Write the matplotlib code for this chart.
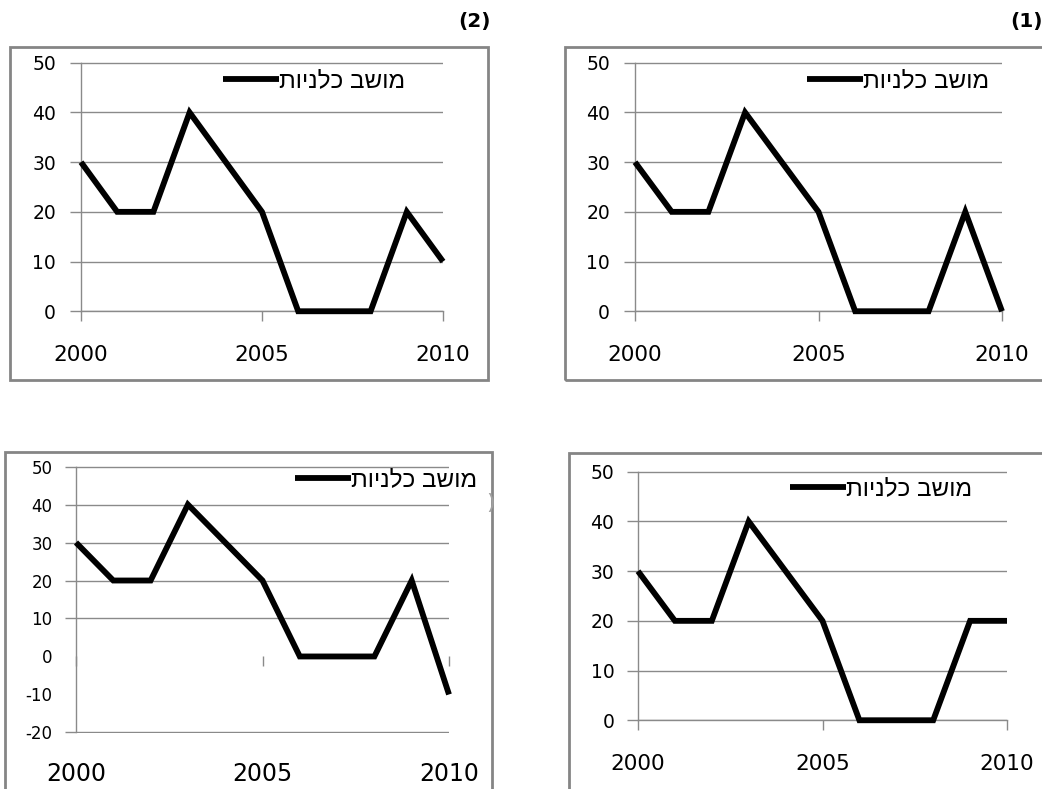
import matplotlib
matplotlib.use("Agg")
import matplotlib.pyplot as plt
from matplotlib.patches import Rectangle

# values
years = [2000, 2001, 2002, 2003, 2004, 2005, 2006, 2007, 2008, 2009, 2010]
values_1 = [30, 20, 20, 40, 30, 20, 0, 0, 0, 20, 0]
values_2 = [30, 20, 20, 40, 30, 20, 0, 0, 0, 20, 10]
values_3 = [30, 20, 20, 40, 30, 20, 0, 0, 0, 20, -10]
values_4 = [30, 20, 20, 40, 30, 20, 0, 0, 0, 20, 20]
series_name = "מושב כלניות"
x_ticks = [2000, 2005, 2010]
y_ticks_top = [0, 10, 20, 30, 40, 50]
y_ticks_low = [-20, -10, 0, 10, 20, 30, 40, 50]
grid_low = [-20, 10, 20, 30, 40, 50]   # lines that show in the lower-left chart

W, H = 1042, 789
fig = plt.figure(figsize=(W / 100, H / 100), dpi=100)
GRAY = "#8a8a8a"
FRAME = "#858585"


def frame(x0, y0, x1, y1):
    fig.patches.append(Rectangle((x0 / W, 1 - y1 / H), (x1 - x0) / W, (y1 - y0) / H,
                                 transform=fig.transFigure, fill=False,
                                 edgecolor=FRAME, lw=2.0))


def panel(x0, x1, ytop, ybot, vals, yt, grid_vals, ylim, xfs, yfs, ypad, xpad,
          leg_xy, zero_axis=False):
    ax = fig.add_axes([x0 / W, 1 - ybot / H, (x1 - x0) / W, (ybot - ytop) / H])
    ax.set_xlim(2000, 2010)
    # a hair of room so the edge gridlines are not clipped in half
    ax.set_ylim(ylim[0] - 0.15, ylim[1] + 0.15)
    for s in ["top", "right"]:
        ax.spines[s].set_visible(False)
    ax.spines["left"].set_color(GRAY)
    ax.spines["left"].set_linewidth(1.0)
    ax.spines["left"].set_bounds(ylim[0], ylim[1])
    ax.spines["bottom"].set_position(("data", 0))
    if zero_axis:
        ax.spines["bottom"].set_color("none")
    else:
        ax.spines["bottom"].set_color(GRAY)
        ax.spines["bottom"].set_linewidth(1.0)
    ax.set_xticks(x_ticks)
    ax.set_xticklabels([str(t) for t in x_ticks], fontsize=xfs, family="DejaVu Sans")
    ax.tick_params(axis="x", length=7, width=1, color=GRAY, direction="out", pad=xpad)
    ax.set_yticks(yt)
    ax.set_yticklabels([str(t) for t in yt], fontsize=yfs, family="DejaVu Sans")
    ax.tick_params(axis="y", which="major", length=0, pad=ypad)
    ax.yaxis.remove_overlapping_locs = False
    ax.set_yticks(grid_vals, minor=True)
    ax.tick_params(axis="y", which="minor", length=8, width=1, color=GRAY, direction="out")
    ax.grid(which="minor", axis="y", color=GRAY, lw=1.0)
    ax.set_axisbelow(True)
    ax.plot(years, vals, color="black", lw=4.2, solid_capstyle="butt",
            solid_joinstyle="miter", clip_on=False, zorder=3,
            label=series_name[::-1])
    ax.legend(loc="center left", bbox_to_anchor=(leg_xy[0] / W, 1 - leg_xy[1] / H),
              bbox_transform=fig.transFigure, frameon=False, borderpad=0,
              borderaxespad=0, handlelength=2.3, handletextpad=0.0,
              prop={"family": ["Liberation Sans", "DejaVu Sans"], "size": 17.5})
    return ax


# frames around each chart (some run past the page edge)
frame(10, 47, 488, 380)
frame(565, 47, 1060, 380)
frame(5, 452, 492, 800)
frame(569, 453, 1060, 800)

# top-left: (2)
panel(81, 443, 62, 312, values_2, y_ticks_top, y_ticks_top, (0, 50),
      15.5, 13.5, 18, 17, (223, 81))
# top-right: (1)
panel(635, 1002, 62, 312, values_1, y_ticks_top, y_ticks_top, (0, 50),
      15.5, 13.5, 18, 17, (807, 81))
# bottom-left
panel(76, 449, 466, 733, values_3, y_ticks_low, grid_low, (-20, 50),
      17, 12, 17, 69, (295, 480), zero_axis=True)
# bottom-right
panel(638, 1007, 471, 721, values_4, y_ticks_top, y_ticks_top, (0, 50),
      15.5, 13.5, 17, 17, (790, 489))

fig.text(475 / W, 1 - 21 / H, "(2)", fontsize=14.5, fontweight="bold",
         ha="center", va="center")
fig.text(1026 / W, 1 - 21 / H, "(1)", fontsize=14.5, fontweight="bold",
         ha="center", va="center")
fig.text(491 / W, 1 - 503 / H, ")", fontsize=16, color="#a0a0a0",
         ha="center", va="center")

plt.savefig("out.png", dpi=100)
